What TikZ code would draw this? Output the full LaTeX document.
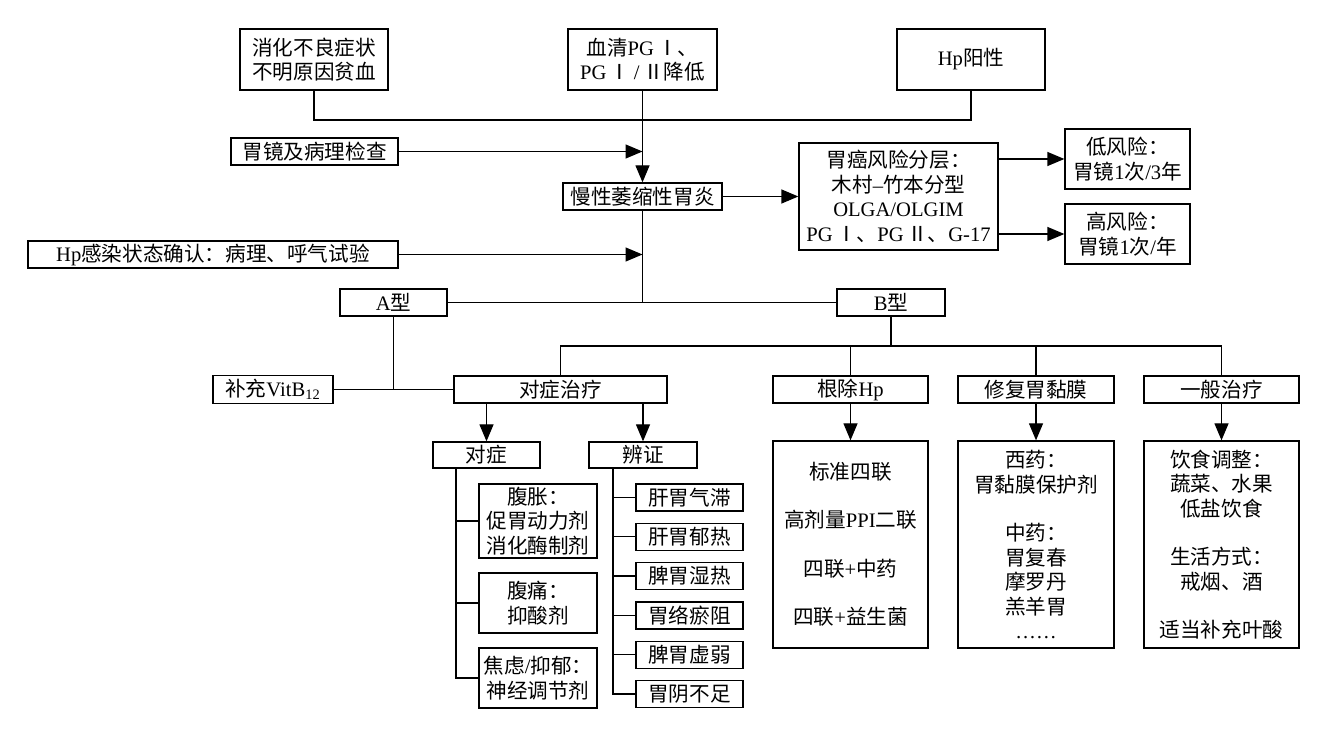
\documentclass[tikz,border=0pt]{standalone}
\usepackage{fontspec}
\setmainfont{Liberation Serif}
\newfontfamily\cjk{Noto Sans CJK SC}
\usetikzlibrary{arrows.meta}
\newcommand\en[1]{{\rmfamily #1}}
\tikzset{
  ln/.style={line width=0.65pt},
  arr/.style={ln,-{Triangle[length=8.5pt,width=7pt]}},
  box/.style={draw,line width=0.65pt,inner sep=0pt,align=center,
    font=\cjk\fontsize{10.3}{12.25}\selectfont},
  bx/.style 2 args={box,minimum width=#1*0.5pt,minimum height=#2*0.5pt}
}
\begin{document}
\begin{tikzpicture}[x=0.5pt,y=-0.5pt]
\useasboundingbox (0,0) rectangle (1326,742);
% top row
\node[bx={148}{61}] (sym) at (314,59.5) {消化不良症状\\不明原因贫血};
\node[bx={149}{61}] (pg) at (642.5,59.5) {血清\en{PG\,}Ⅰ、\\\en{PG\,}Ⅰ\en{\,/\,}Ⅱ降低};
\node[bx={148}{61}] (hp) at (971,59.5) {\en{Hp}阳性};
\node[bx={167}{27}] (endo) at (314.5,151.5) {胃镜及病理检查};
\node[bx={159}{27}] (cag) at (642.5,196.5) {慢性萎缩性胃炎};
\node[bx={199}{107}] (risk) at (898.5,196.5) {胃癌风险分层：\\木村\en{–}竹本分型\\\en{OLGA/OLGIM}\\\en{PG\,}Ⅰ、\en{PG\,}Ⅱ、\en{G-17}};
\node[bx={125}{60}] (low) at (1127.5,159) {低风险：\\胃镜\en{1}次\en{/3}年};
\node[bx={125}{60}] (high) at (1127.5,234) {高风险：\\胃镜\en{1}次\en{/}年};
\node[bx={370}{27}] (hpc) at (213,254.5) {\en{Hp}感染状态确认：病理、呼气试验};
\node[bx={107}{27}] (A) at (393.5,302.5) {\en{A}型};
\node[bx={108}{27}] (B) at (891,302.5) {\en{B}型};
% treatment row
\node[bx={120}{28}] (vit) at (273,389.5) {补充\en{VitB\textsubscript{12}}};
\node[bx={213}{27}] (dz) at (560.5,389.5) {对症治疗};
\node[bx={155}{27}] (gc) at (850.5,389.5) {根除\en{Hp}};
\node[bx={156}{27}] (xf) at (1036,389.5) {修复胃黏膜};
\node[bx={155}{27}] (yb) at (1221.5,389.5) {一般治疗};
\node[bx={155}{207}] (gcb) at (850.5,544.5) {标准四联\\[12pt]高剂量\en{PPI}二联\\[12pt]四联\en{+}中药\\[12pt]四联\en{+}益生菌};
\node[bx={156}{207}] (xfb) at (1036,544.5) {西药：\\胃黏膜保护剂\\[12pt]中药：\\胃复春\\摩罗丹\\羔羊胃\\\en{……}};
\node[bx={155}{207}] (ybb) at (1221.5,544.5) {饮食调整：\\蔬菜、水果\\低盐饮食\\[12pt]生活方式：\\戒烟、酒\\[12pt]适当补充叶酸};
\node[bx={107}{26}] (dz2) at (486.5,455) {对症};
\node[bx={108}{26}] (bz) at (643,455) {辨证};
\node[bx={118}{74}] (fz) at (538,521) {腹胀：\\促胃动力剂\\消化酶制剂};
\node[bx={118}{60}] (ft) at (538,603) {腹痛：\\抑酸剂};
\node[bx={118}{60}] (jl) at (538,678) {焦虑\en{/}抑郁：\\神经调节剂};
\foreach \t [count=\i] in {肝胃气滞,肝胃郁热,脾胃湿热,胃络瘀阻,脾胃虚弱,胃阴不足}
  \node[bx={107}{27}] (s\i) at (689.5,{497.5+(\i-1)*39.3}) {\t};
% connectors
\coordinate (top) at (642.5,120);
\draw[ln] (sym.south) |- (top) -| (hp.south);
\draw[arr] (pg.south) -- (cag.north);
\draw[arr] (endo.east) -- (endo.east -| cag.north);
\draw[arr] (hpc.east) -- (hpc.east -| cag.south);
\draw[arr] (cag.east) -- (risk.west);
\draw[arr] (risk.east |- low.west) -- (low.west);
\draw[arr] (risk.east |- high.west) -- (high.west);
\draw[ln] (cag.south) -- (cag.south |- A.east);
\draw[ln] (A.east) -- (B.west);
\draw[ln] (A.south) -- (A.south |- vit.east);
\draw[ln] (vit.east) -- (dz.west);
\coordinate (bl) at (891,346);
\draw[ln] (B.south) -- (bl);
\draw[ln] (dz.north) |- (bl) -| (yb.north);
\draw[ln] (gc.north) -- (gc.north |- bl);
\draw[ln] (xf.north) -- (xf.north |- bl);
\draw[arr] (gc.south) -- (gcb.north);
\draw[arr] (xf.south) -- (xfb.north);
\draw[arr] (yb.south) -- (ybb.north);
\draw[arr] (dz.south -| dz2.north) -- (dz2.north);
\draw[arr] (dz.south -| bz.north) -- (bz.north);
\coordinate (t1) at (456,468);
\draw[ln] (t1) |- (jl.west);
\draw[ln] (t1 |- fz.west) -- (fz.west);
\draw[ln] (t1 |- ft.west) -- (ft.west);
\coordinate (t2) at (613,468);
\draw[ln] (t2) |- (s6.west);
\foreach \i in {1,...,5} \draw[ln] (t2 |- s\i.west) -- (s\i.west);
\end{tikzpicture}
\end{document}
